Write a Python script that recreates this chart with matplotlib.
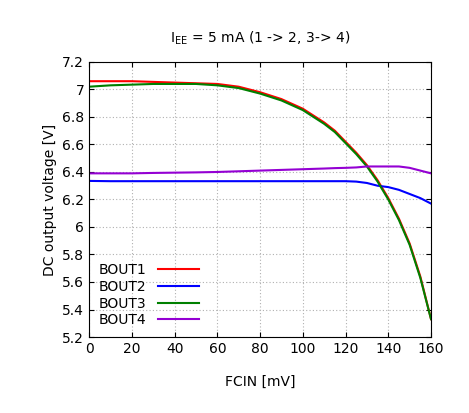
import matplotlib
matplotlib.use("Agg")
import matplotlib.pyplot as plt
import numpy as np

# FCIN sweep [mV]
fcin = [0, 10, 20, 30, 40, 50, 60, 70, 80, 90, 100, 110, 115, 120, 125,
        130, 135, 140, 145, 150, 155, 160]
bout1 = [7.06, 7.06, 7.06, 7.055, 7.05, 7.045, 7.04, 7.02, 6.98, 6.93, 6.86,
         6.76, 6.70, 6.62, 6.54, 6.45, 6.34, 6.21, 6.06, 5.88, 5.64, 5.33]
bout2 = [6.335, 6.333, 6.333, 6.333, 6.333, 6.333, 6.333, 6.333, 6.333, 6.333,
         6.333, 6.333, 6.333, 6.333, 6.33, 6.32, 6.30, 6.29, 6.27, 6.24, 6.21, 6.17]
bout3 = [7.02, 7.03, 7.035, 7.04, 7.04, 7.04, 7.03, 7.01, 6.97, 6.92, 6.85,
         6.75, 6.69, 6.61, 6.53, 6.44, 6.33, 6.20, 6.05, 5.87, 5.63, 5.33]
bout4 = [6.39, 6.39, 6.39, 6.393, 6.395, 6.397, 6.40, 6.405, 6.41, 6.415, 6.42,
         6.425, 6.428, 6.43, 6.433, 6.44, 6.44, 6.44, 6.44, 6.43, 6.41, 6.39]

series = [("BOUT1", bout1, "#ff0000"), ("BOUT2", bout2, "#0000ff"),
          ("BOUT3", bout3, "#008000"), ("BOUT4", bout4, "#9400d3")]

fig = plt.figure(figsize=(4.69, 4.13), dpi=100)
ax = fig.add_axes([0.19, 0.184, 0.729, 0.666])
for name, ys, c in series:
    ax.plot(fcin, ys, color=c, lw=1.5, label=name)

ax.set_xlim(0, 160)
ax.set_ylim(5.2, 7.2)
ax.set_xticks(np.arange(0, 161, 20))
yt = np.round(np.arange(5.2, 7.21, 0.2), 1)
ax.set_yticks(yt)
ax.set_yticklabels([f"{v:g}" for v in yt])
ax.tick_params(direction="in", top=True, right=True, labelsize=10)
ax.grid(True, color="#b0b0b0", linestyle=(0, (1, 2)), lw=0.8)
ax.set_xlabel("FCIN [mV]", fontsize=10, labelpad=14)
ax.set_ylabel("DC output voltage [V]", fontsize=10)
ax.set_title(r"I$_{\rm EE}$ = 5 mA (1 -> 2, 3-> 4)", fontsize=10, pad=14)
ax.legend(loc="lower left", frameon=False, markerfirst=False, fontsize=10,
          handlelength=3, labelspacing=0.2, borderaxespad=0.3)
fig.savefig("out.png", dpi=100)
